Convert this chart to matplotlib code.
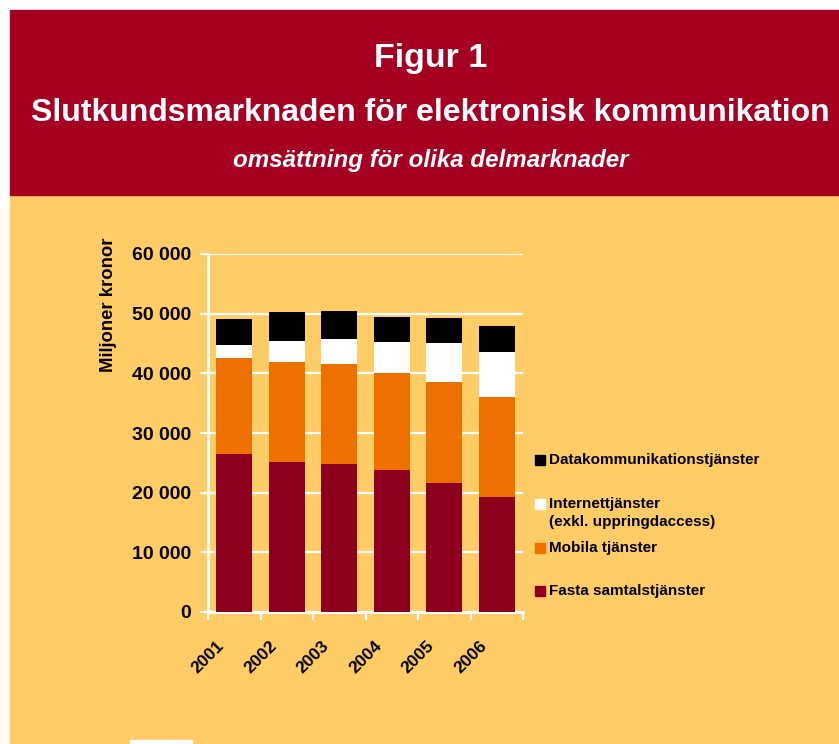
import matplotlib.pyplot as plt
from matplotlib.patches import Rectangle
import numpy as np

plt.rcParams['font.family'] = ['Liberation Sans', 'DejaVu Sans']
plt.rcParams['font.weight'] = 'bold'

# data (miljoner kronor)
years = ['2001', '2002', '2003', '2004', '2005', '2006']
fasta = [26400, 25200, 24800, 23800, 21600, 19300]
mobila = [16200, 16700, 16700, 16200, 16900, 16800]
internet = [2150, 3500, 4300, 5200, 6500, 7400]
data = [4350, 4800, 4650, 4300, 4300, 4400]

labels = ['Fasta samtalstjänster', 'Mobila tjänster',
          'Internettjänster\n(exkl. uppringdaccess)', 'Datakommunikationstjänster']
colors = ['#8C001E', '#EE7100', '#FFFFFF', '#000000']

red_bg = '#A50021'
yellow_bg = '#FFCC66'

fig = plt.figure(figsize=(8.39, 7.44), dpi=100)

# background blocks
fig.patches.append(Rectangle((9.5 / 839, 0), 1, (744 - 195) / 744, transform=fig.transFigure,
                             color=yellow_bg, zorder=-10))
fig.patches.append(Rectangle((9.5 / 839, (744 - 195) / 744), 1, 185 / 744, transform=fig.transFigure,
                             color=red_bg, zorder=-10))
fig.patches.append(Rectangle((130 / 839, 1 / 744), 62 / 839, 3 / 744, transform=fig.transFigure,
                             color='white', zorder=-9))

# header texts
fig.text(0.513, (744 - 58) / 744, 'Figur 1', color='white', fontsize=24.5, fontweight='bold',
         ha='center', va='center')
fig.text(0.513, (744 - 113) / 744, 'Slutkundsmarknaden för elektronisk kommunikation',
         color='white', fontsize=23, fontweight='bold', ha='center', va='center')
fig.text(0.513, (744 - 160) / 744, 'omsättning för olika delmarknader', color='white',
         fontsize=17.4, fontweight='bold', style='italic', ha='center', va='center')

ax = fig.add_axes([208 / 839, (744 - 612) / 744, (523 - 208) / 839, (612 - 254) / 744])
ax.set_facecolor('none')

x = np.arange(len(years))
series = [fasta, mobila, internet, data]
bottom = np.zeros(len(years))
for vals, col in zip(series, colors):
    ax.bar(x, vals, bottom=bottom, width=0.69, color=col, zorder=3)
    bottom += np.array(vals)

ax.set_xlim(-0.5, 5.5)
ax.set_ylim(0, 60000)
ax.set_yticks(range(0, 60001, 10000))
ax.set_yticklabels(['0', '10 000', '20 000', '30 000', '40 000', '50 000', '60 000'],
                   fontsize=14, fontweight='bold')
ax.yaxis.grid(True, color='white', linewidth=1.6, zorder=1)
ax.set_axisbelow(True)

# year labels sit a bit left of the bar centres, like in the original
ax.set_xticks(x - 0.34)
ax.set_xticklabels(years, rotation=45, ha='right', rotation_mode='anchor',
                   fontsize=12.5, fontweight='bold')
ax.set_xticks(np.arange(-0.5, 6, 1), minor=True)
ax.tick_params(axis='x', which='major', length=0, pad=19)
ax.tick_params(axis='x', which='minor', length=6, width=1.6, color='white')
ax.tick_params(axis='y', length=6, width=1.6, color='white', pad=6)

for s in ['top', 'right']:
    ax.spines[s].set_visible(False)
for s in ['left', 'bottom']:
    ax.spines[s].set_color('white')
    ax.spines[s].set_linewidth(2)

fig.text(108 / 839, (744 - 305) / 744, 'Miljoner kronor', rotation=90, fontsize=13.3,
         fontweight='bold', ha='center', va='center')

# legend
leg_y = [591, 548, 504, 460]
for lab, col, yy in zip(labels, colors, leg_y):
    fig.patches.append(Rectangle((535 / 839, (744 - yy - 5) / 744), 10 / 839, 10 / 744,
                                 transform=fig.transFigure, color=col, zorder=3))
    fig.text(549 / 839, (744 - yy) / 744, lab.split('\n')[0], fontsize=11,
             fontweight='bold', ha='left', va='center')
    if '\n' in lab:
        fig.text(549 / 839, (744 - yy - 18) / 744, lab.split('\n')[1], fontsize=11,
                 fontweight='bold', ha='left', va='center')

fig.savefig('out.png', dpi=100, facecolor='white')
